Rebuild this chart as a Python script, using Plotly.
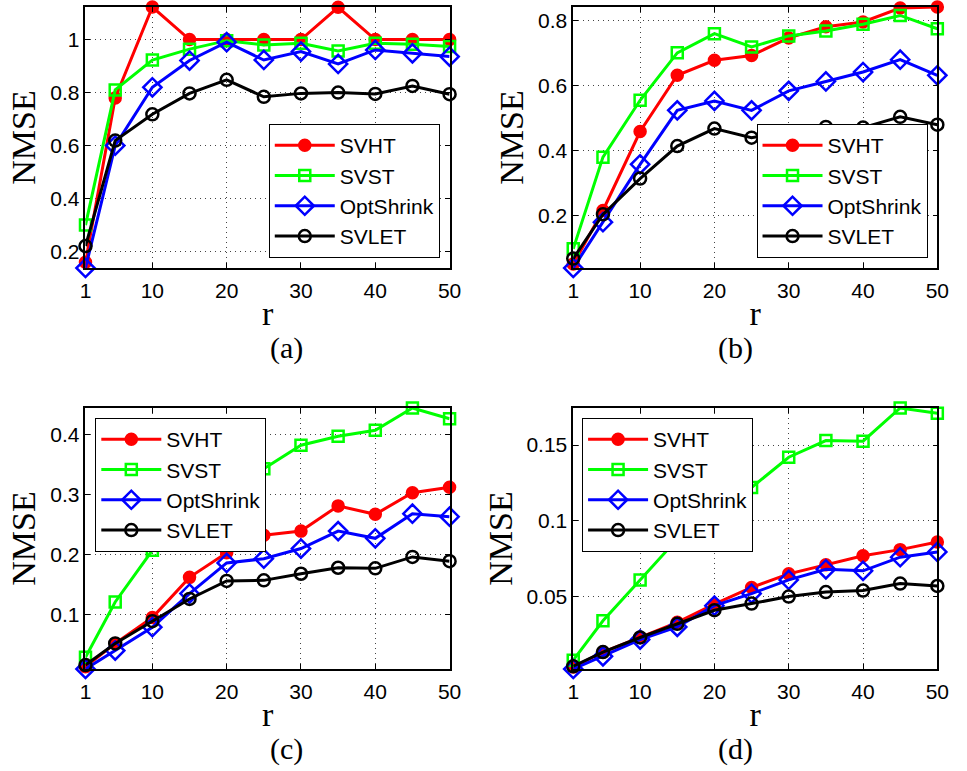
import plotly.graph_objects as go

# rank values on the horizontal axis
r = [1, 5, 10, 15, 20, 25, 30, 35, 40, 45, 50]
x_ticks = [1, 10, 20, 30, 40, 50]

# (a)
a_svht = [0.16, 0.78, 1.123, 1.0, 1.0, 1.0, 1.0, 1.122, 1.0, 1.0, 1.0]
a_svst = [0.30, 0.81, 0.923, 0.964, 0.996, 0.98, 0.986, 0.957, 0.986, 0.982, 0.974]
a_opt = [0.138, 0.60, 0.82, 0.921, 0.99, 0.923, 0.955, 0.908, 0.961, 0.948, 0.936]
a_svlet = [0.221, 0.619, 0.718, 0.797, 0.848, 0.784, 0.797, 0.80, 0.795, 0.825, 0.794]
a_yticks = [0.2, 0.4, 0.6, 0.8, 1.0]
a_ylabels = ["0.2", "0.4", "0.6", "0.8", "1"]

# (b)
b_svht = [0.05, 0.215, 0.458, 0.631, 0.677, 0.692, 0.746, 0.78, 0.795, 0.838, 0.841]
b_svst = [0.097, 0.379, 0.554, 0.70, 0.759, 0.718, 0.752, 0.767, 0.788, 0.815, 0.774]
b_opt = [0.038, 0.179, 0.357, 0.523, 0.552, 0.523, 0.583, 0.612, 0.641, 0.679, 0.631]
b_svlet = [0.067, 0.203, 0.313, 0.413, 0.467, 0.439, 0.458, 0.472, 0.470, 0.503, 0.479]
b_yticks = [0.2, 0.4, 0.6, 0.8]
b_ylabels = ["0.2", "0.4", "0.6", "0.8"]

# (c)
c_svht = [0.013, 0.052, 0.095, 0.162, 0.203, 0.232, 0.239, 0.281, 0.267, 0.303, 0.312]
c_svst = [0.029, 0.121, 0.207, 0.265, 0.31, 0.343, 0.382, 0.397, 0.407, 0.444, 0.426]
c_opt = [0.0094, 0.040, 0.079, 0.135, 0.186, 0.193, 0.21, 0.239, 0.227, 0.268, 0.263]
c_svlet = [0.016, 0.052, 0.089, 0.126, 0.156, 0.157, 0.168, 0.178, 0.177, 0.196, 0.189]
c_yticks = [0.1, 0.2, 0.3, 0.4]
c_ylabels = ["0.1", "0.2", "0.3", "0.4"]

# (d)
d_svht = [0.0035, 0.0134, 0.023, 0.033, 0.045, 0.056, 0.065, 0.071, 0.077, 0.081, 0.086]
d_svst = [0.008, 0.034, 0.061, 0.088, 0.106, 0.122, 0.142, 0.153, 0.1526, 0.1745, 0.171]
d_opt = [0.0022, 0.0106, 0.0216, 0.030, 0.044, 0.052, 0.061, 0.068, 0.067, 0.076, 0.0795]
d_svlet = [0.004, 0.0134, 0.023, 0.032, 0.041, 0.0454, 0.050, 0.053, 0.054, 0.0586, 0.057]
d_yticks = [0.05, 0.1, 0.15]
d_ylabels = ["0.05", "0.1", "0.15"]

panels = [
    ("(a)", [a_svht, a_svst, a_opt, a_svlet], a_yticks, a_ylabels),
    ("(b)", [b_svht, b_svst, b_opt, b_svlet], b_yticks, b_ylabels),
    ("(c)", [c_svht, c_svst, c_opt, c_svlet], c_yticks, c_ylabels),
    ("(d)", [d_svht, d_svst, d_opt, d_svlet], d_yticks, d_ylabels),
]

methods = ["SVHT", "SVST", "OptShrink", "SVLET"]
styles = [
    dict(color="#ff0000", symbol="circle", size=11, fill="#ff0000"),
    dict(color="#00ff00", symbol="square-open", size=11, fill=None),
    dict(color="#0000ff", symbol="diamond-open", size=14, fill=None),
    dict(color="#000000", symbol="circle-open", size=12, fill=None),
]

W, H = 967, 771
# plot-area boxes in pixels: (left, right, top, bottom)
boxes = [(81, 452, 7, 268), (578, 949, 7, 268), (81, 452, 408, 669), (578, 949, 408, 669)]
# legend anchors in pixels
legend_pos = [
    dict(x=442, y=258, xanchor="right", yanchor="bottom"),
    dict(x=939, y=258, xanchor="right", yanchor="bottom"),
    dict(x=91, y=418, xanchor="left", yanchor="top"),
    dict(x=587, y=418, xanchor="left", yanchor="top"),
]

sans = "Liberation Sans, Arial, sans-serif"
serif = "Liberation Serif, DejaVu Serif, serif"
tick_font = dict(family=sans, size=21, color="black")

fig = go.Figure()
layout = dict(
    width=W, height=H,
    margin=dict(l=0, r=0, t=0, b=0),
    paper_bgcolor="white", plot_bgcolor="white",
    showlegend=True,
    annotations=[],
)

for i, (tag, series, yticks, ylabels) in enumerate(panels):
    k = "" if i == 0 else str(i + 1)
    xa, ya = "x" + k, "y" + k
    leg = "legend" + k
    for name, vals, st in zip(methods, series, styles):
        fig.add_trace(go.Scatter(
            x=r, y=vals, name=name, mode="lines+markers",
            xaxis=xa, yaxis=ya, legend=leg, cliponaxis=False,
            line=dict(color=st["color"], width=3),
            marker=dict(symbol=st["symbol"], size=st["size"],
                        color=st["fill"] if st["fill"] else st["color"],
                        line=dict(color=st["color"], width=2.5)),
        ))
    left, right, top, bottom = boxes[i]
    all_vals = [v for s in series for v in s]
    axis_common = dict(
        showline=True, linecolor="black", linewidth=1.5, mirror="allticks",
        ticks="inside", ticklen=5, tickcolor="black", tickwidth=1,
        showgrid=True, gridcolor="#444444", gridwidth=1, griddash="1px,4px",
        zeroline=False, tickfont=tick_font,
    )
    layout["xaxis" + k] = dict(
        axis_common,
        domain=[left / W, right / W],
        range=[min(r), max(r)],
        tickvals=x_ticks, ticktext=[str(t) for t in x_ticks],
        anchor=ya, ticklabelstandoff=3,
        title=dict(text="r", font=dict(family=serif, size=34, color="black"), standoff=0),
    )
    layout["yaxis" + k] = dict(
        axis_common,
        domain=[1 - bottom / H, 1 - top / H],
        range=[min(all_vals), max(all_vals)],
        tickvals=yticks, ticktext=ylabels,
        anchor=xa,
        title=dict(text="NMSE", font=dict(family=serif, size=34, color="black"), standoff=4),
    )
    lp = legend_pos[i]
    layout[leg] = dict(
        x=lp["x"] / W, y=1 - lp["y"] / H, xanchor=lp["xanchor"], yanchor=lp["yanchor"],
        bgcolor="white", bordercolor="black", borderwidth=1,
        font=dict(family=sans, size=21, color="black"),
        itemwidth=60, tracegroupgap=0,
    )
    layout["annotations"].append(dict(
        text=tag, x=(left + right) / 2 / W, y=1 - (bottom + 80) / H,
        xref="paper", yref="paper", showarrow=False, yanchor="middle",
        font=dict(family=serif, size=30, color="black"),
    ))

fig.update_layout(**layout)
fig.write_html("out.html")
